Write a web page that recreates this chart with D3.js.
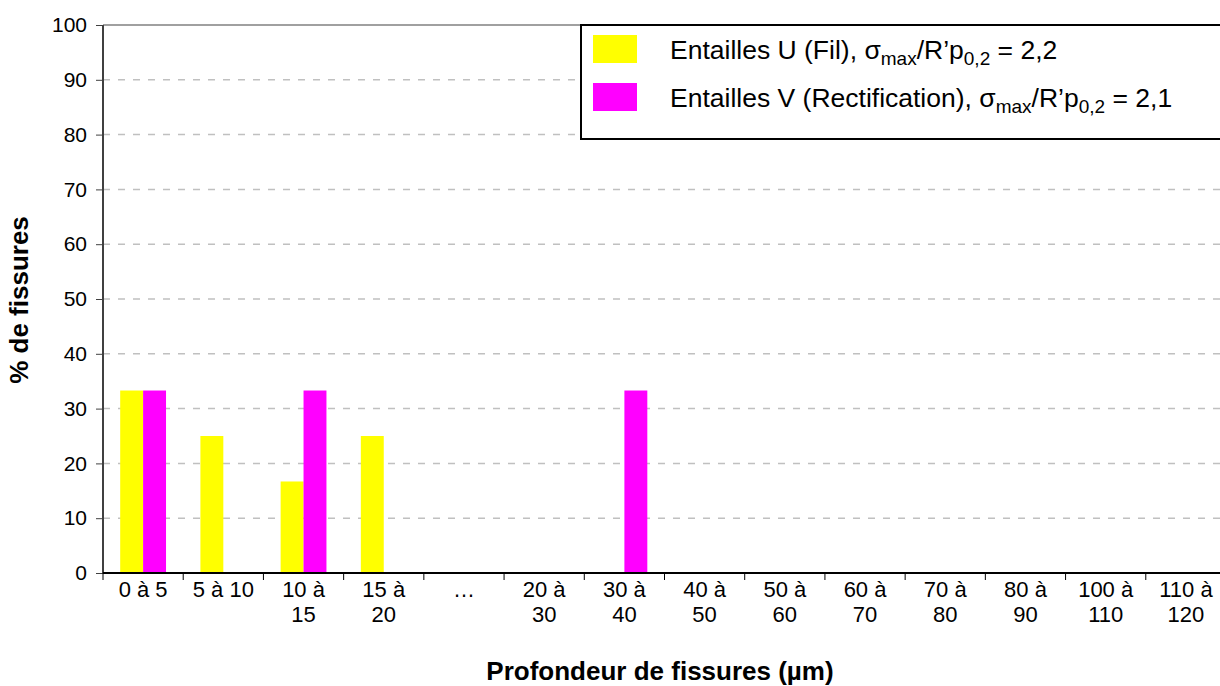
<!DOCTYPE html>
<html>
<head>
<meta charset="utf-8">
<script src="https://cdn.jsdelivr.net/npm/d3@7"></script>
<style>
  body { margin: 0; background: #fff; }
  text { font-family: "Liberation Sans", Arial, sans-serif; fill: #000; }
</style>
</head>
<body>
<script>
// Histogram of crack depths, two notch types

const categories = [
    ["0 à 5"], ["5 à 10"], ["10 à", "15"], ["15 à", "20"], ["…"],
    ["20 à", "30"], ["30 à", "40"], ["40 à", "50"], ["50 à", "60"], ["60 à", "70"],
    ["70 à", "80"], ["80 à", "90"], ["100 à", "110"], ["110 à", "120"]
];
const seriesNames = ["U", "V"];
const valuesU = [33.3, 25, 16.7, 25, 0, 0, 0, 0, 0, 0, 0, 0, 0, 0];
const valuesV = [33.3, 0, 33.3, 0, 0, 0, 33.3, 0, 0, 0, 0, 0, 0, 0];
const yTicks = [0, 10, 20, 30, 40, 50, 60, 70, 80, 90, 100];
const colors = { U: "#ffff00", V: "#ff00ff" };

const width = 1220, height = 686;
const plotLeft = 103, plotRight = 1226, plotTop = 25, plotBottom = 573;

const svg = d3.select("body").append("svg")
    .attr("width", width)
    .attr("height", height);

const keys = categories.map((c, i) => i);

const x = d3.scaleBand().domain(keys).range([plotLeft, plotRight]);
const bw = x.bandwidth();
// gap width 150% like excel
const x1 = d3.scaleBand().domain(seriesNames)
    .range([bw * 0.75 / 3.5, bw - bw * 0.75 / 3.5]);
const y = d3.scaleLinear().domain([0, 100]).range([plotBottom, plotTop]);

// grid lines
svg.append("g")
    .selectAll("line")
    .data(yTicks.filter(t => t > 0))
    .join("line")
    .attr("x1", plotLeft).attr("x2", width)
    .attr("y1", d => y(d)).attr("y2", d => y(d))
    .attr("stroke", d => d === 100 ? "#808080" : "#c0c0c0")
    .attr("stroke-width", 1.5)
    .attr("stroke-dasharray", d => d === 100 ? null : "7,8");

// bars
const rows = keys.map(i => ({ i, U: valuesU[i], V: valuesV[i] }));
svg.append("g")
    .selectAll("g")
    .data(rows)
    .join("g")
    .attr("transform", d => `translate(${x(d.i)},0)`)
    .selectAll("rect")
    .data(d => seriesNames.map(s => ({ s, v: d[s] })).filter(e => e.v > 0))
    .join("rect")
    .attr("x", d => x1(d.s))
    .attr("width", x1.bandwidth())
    .attr("y", d => y(d.v))
    .attr("height", d => y(0) - y(d.v))
    .attr("fill", d => colors[d.s]);

// y axis
const yAxis = svg.append("g")
    .attr("transform", `translate(${plotLeft},0)`)
    .call(d3.axisLeft(y).tickValues(yTicks).tickSize(7).tickPadding(9));
yAxis.select(".domain").attr("stroke", "#404040").attr("stroke-width", 2)
    .attr("d", `M0,${plotTop}V${plotBottom}`);
yAxis.selectAll(".tick line").attr("stroke", "#404040");
yAxis.selectAll(".tick text")
    .style("font-size", "21px")
    .attr("font-family", "Liberation Sans, Arial, sans-serif");

// x axis
const xg = svg.append("g").attr("transform", `translate(0,${plotBottom})`);
xg.append("line").attr("x1", plotLeft).attr("x2", width)
    .attr("stroke", "#000").attr("stroke-width", 2);
xg.selectAll(".tk")
    .data(keys.concat([keys.length]))
    .join("line")
    .attr("class", "tk")
    .attr("x1", d => plotLeft + d * bw).attr("x2", d => plotLeft + d * bw)
    .attr("y1", 0).attr("y2", 7)
    .attr("stroke", "#000");
const lbl = xg.selectAll(".lb")
    .data(rows)
    .join("text")
    .attr("class", "lb")
    .attr("text-anchor", "middle")
    .style("font-size", "22px")
    .attr("transform", d => `translate(${x(d.i) + bw / 2},0)`);
lbl.selectAll("tspan")
    .data(d => categories[d.i])
    .join("tspan")
    .attr("x", 0)
    .attr("y", (d, j) => 24 + j * 25)
    .text(d => d);

// axis titles
svg.append("text")
    .attr("x", 660).attr("y", 680)
    .attr("text-anchor", "middle")
    .style("font-size", "26px").style("font-weight", "bold")
    .text("Profondeur de fissures (µm)");

svg.append("text")
    .attr("transform", "translate(28,300) rotate(-90)")
    .attr("text-anchor", "middle")
    .style("font-size", "26px").style("font-weight", "bold")
    .text("% de fissures");

// legend
const legend = svg.append("g");
legend.append("rect")
    .attr("x", 581).attr("y", 25)
    .attr("width", 660).attr("height", 114)
    .attr("fill", "#fff").attr("stroke", "#000").attr("stroke-width", 2);

const legendItems = [
    { s: "U", pre: "Entailles U (Fil), ", post: " = 2,2" },
    { s: "V", pre: "Entailles V (Rectification), ", post: " = 2,1" }
];
legendItems.forEach((it, i) => {
    const yy = 35 + i * 48;
    legend.append("rect")
        .attr("x", 593).attr("y", yy)
        .attr("width", 44).attr("height", 28)
        .attr("fill", colors[it.s]);
    const t = legend.append("text")
        .attr("x", 670).attr("y", yy + 24)
        .style("font-size", "26.5px");
    t.append("tspan").text(it.pre);
    t.append("tspan").text("σ");
    t.append("tspan").attr("dy", 6).style("font-size", "19px").text("max");
    t.append("tspan").attr("dy", -6).text("/R’p");
    t.append("tspan").attr("dy", 6).style("font-size", "19px").text("0,2");
    t.append("tspan").attr("dy", -6).text(it.post);
});
</script>
</body>
</html>
